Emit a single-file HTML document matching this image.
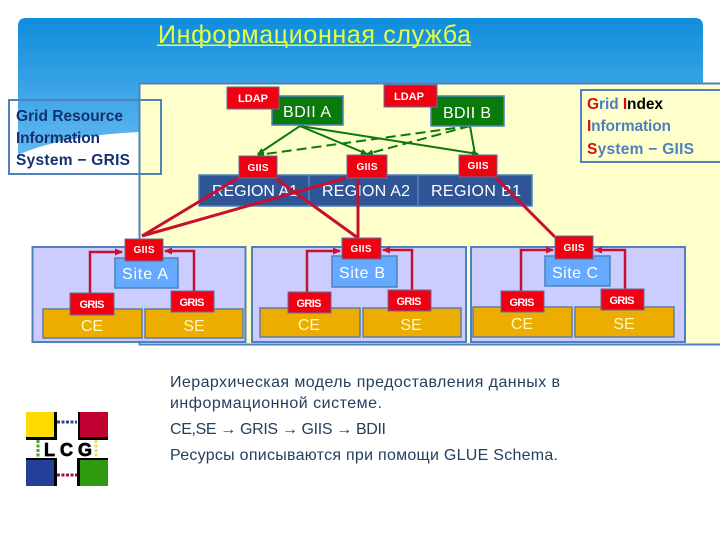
<!DOCTYPE html>
<html><head><meta charset="utf-8"><style>
html,body{margin:0;padding:0;background:#fff}
svg{display:block}
text{font-family:"Liberation Sans",sans-serif}
</style></head><body>
<svg width="720" height="540" viewBox="0 0 720 540" xmlns="http://www.w3.org/2000/svg">
<defs>
<linearGradient id="h" x1="0" y1="0" x2="0" y2="1"><stop offset="0" stop-color="#0f8ddb"/><stop offset="1" stop-color="#63b9f0"/></linearGradient>
<marker id="g" markerWidth="8" markerHeight="8" refX="6" refY="3" orient="auto" markerUnits="userSpaceOnUse"><path d="M0 0L7 3L0 6z" fill="#0a7a0a"/></marker>
<marker id="r" markerWidth="9" markerHeight="8" refX="7" refY="3.5" orient="auto" markerUnits="userSpaceOnUse"><path d="M0 0L8 3.5L0 7z" fill="#d0102a"/></marker>
</defs>
<path d="M18 155V26Q18 18 26 18H695Q703 18 703 26V100H139V132Q60 136 18 155Z" fill="url(#h)"/>
<text x="158" y="43" font-size="25" fill="#e4ff4a" textLength="313" lengthAdjust="spacing">Информационная служба</text>
<rect x="157" y="44.500" width="314" height="1.500" fill="#e4ff4a"/>
<rect x="139.500" y="83.500" width="590" height="261" fill="#ffffcc" stroke="#4f81bd" stroke-width="2"/>
<rect x="9" y="100" width="152" height="74" fill="none" stroke="#4f81bd" stroke-width="2"/>
<g font-size="15.500" font-weight="bold" fill="#14306e">
<text x="16" y="121" textLength="107">Grid Resource</text>
<text x="16" y="143" textLength="84">Information</text>
<text x="16" y="165" textLength="114">System − GRIS</text>
</g>
<rect x="581" y="90" width="150" height="72" fill="#ffffcc" stroke="#4f81bd" stroke-width="2"/>
<g font-size="15.500" font-weight="bold" fill="#4f81bd">
<text x="587" y="109" textLength="76"><tspan fill="#d01010">G</tspan>rid <tspan fill="#d01010">I</tspan><tspan fill="#000">ndex</tspan></text>
<text x="587" y="131" textLength="84"><tspan fill="#d01010">I</tspan>nformation</text>
<text x="587" y="154" textLength="107"><tspan fill="#d01010">S</tspan>ystem − GIIS</text>
</g>
<!-- green connectors -->
<g stroke="#0a7a0a" stroke-width="2" fill="none">
<line x1="300" y1="126" x2="258" y2="154" marker-end="url(#g)"/>
<line x1="300" y1="126" x2="367" y2="154" marker-end="url(#g)"/>
<line x1="300" y1="126" x2="478" y2="154" marker-end="url(#g)"/>
<line x1="470" y1="126" x2="475" y2="154"/>
<line x1="470" y1="126" x2="258" y2="155" stroke-dasharray="10 5" marker-end="url(#g)"/>
<line x1="470" y1="126" x2="367" y2="154" stroke-dasharray="10 5" marker-end="url(#g)"/>
</g>
<!-- regions -->
<g fill="#2f5597" stroke="#4f81bd" stroke-width="1.500">
<rect x="199" y="175" width="110" height="31"/>
<rect x="309" y="175" width="109" height="31"/>
<rect x="418" y="175" width="114" height="31"/>
</g>
<g font-size="16" fill="#fff" text-anchor="middle">
<text x="255" y="196" textLength="86">REGION A1</text>
<text x="366" y="196" textLength="88">REGION A2</text>
<text x="476" y="196" textLength="90">REGION B1</text>
</g>
<!-- sites -->
<g fill="#ccccff" stroke="#4f81bd" stroke-width="2">
<rect x="32.500" y="247" width="213" height="95"/>
<rect x="252" y="247" width="214" height="95"/>
<rect x="471" y="247" width="214" height="95"/>
</g>
<g fill="#66aaff" stroke="#4f81bd" stroke-width="1.500">
<rect x="115" y="258" width="63" height="30"/>
<rect x="332" y="256" width="65" height="31"/>
<rect x="545" y="256" width="65" height="30"/>
</g>
<g font-size="16" fill="#fff" text-anchor="middle">
<text x="145" y="279" textLength="46">Site A</text>
<text x="362" y="278" textLength="46">Site B</text>
<text x="575" y="278" textLength="46">Site C</text>
</g>
<g fill="#edac00" stroke="#5f7f9f" stroke-width="1.500">
<rect x="43" y="309" width="99" height="29"/>
<rect x="145" y="309" width="98" height="29"/>
<rect x="260" y="308" width="100" height="29"/>
<rect x="363" y="308" width="98" height="29"/>
<rect x="473" y="307" width="99" height="30"/>
<rect x="575" y="307" width="99" height="30"/>
</g>
<g font-size="16" fill="#fff8c0" text-anchor="middle">
<text x="92" y="331">CE</text><text x="194" y="331">SE</text>
<text x="309" y="330">CE</text><text x="411" y="330">SE</text>
<text x="522" y="329">CE</text><text x="624" y="329">SE</text>
</g>
<!-- red connectors -->
<g stroke="#c8102e" stroke-width="2.500" fill="none">
<line x1="240" y1="177" x2="142" y2="236" stroke-width="3"/>
<line x1="346" y1="178" x2="142" y2="236" stroke-width="3" marker-start="url(#r)"/>
<line x1="275" y1="178" x2="358" y2="238" stroke-width="3"/>
<line x1="358" y1="178" x2="358" y2="238" stroke-width="3"/>
<line x1="495" y1="177" x2="555" y2="237" stroke-width="3"/>
<path d="M90 293V252H122" marker-end="url(#r)"/>
<path d="M194 291V251H165" marker-end="url(#r)"/>
<path d="M307 292V251H340" marker-end="url(#r)"/>
<path d="M412 290V250H383" marker-end="url(#r)"/>
<path d="M521 291V250H553" marker-end="url(#r)"/>
<path d="M625 289V250H595" marker-end="url(#r)"/>
</g>
<!-- BDII -->
<g fill="#0a7a0a" stroke="#4f81bd" stroke-width="1.500">
<rect x="272" y="96" width="71" height="29"/>
<rect x="431" y="96" width="73" height="30"/>
</g>
<g font-size="16" fill="#fff" text-anchor="middle">
<text x="307" y="117" textLength="48">BDII A</text>
<text x="467" y="118" textLength="48">BDII B</text>
</g>
<!-- red labels -->
<g fill="#f00010" stroke="#5f6f9f" stroke-width="1">
<rect x="227" y="87" width="52" height="22"/><rect x="384" y="85" width="53" height="22"/>
<rect x="239" y="156" width="38" height="22"/><rect x="347" y="155" width="40" height="23"/><rect x="459" y="155" width="38" height="22"/>
<rect x="125" y="239" width="38" height="22"/><rect x="342" y="238" width="39" height="21"/><rect x="555" y="236" width="38" height="23"/>
<rect x="70" y="293" width="44" height="22"/><rect x="171" y="291" width="43" height="21"/>
<rect x="288" y="292" width="43" height="21"/><rect x="388" y="290" width="43" height="21"/>
<rect x="501" y="291" width="43" height="21"/><rect x="601" y="289" width="43" height="21"/>
</g>
<g font-size="11" font-weight="bold" fill="#fff" text-anchor="middle">
<text x="253" y="102" textLength="30">LDAP</text><text x="409" y="100" textLength="30">LDAP</text>
<g font-size="10">
<text x="258" y="171" textLength="21">GIIS</text><text x="367" y="170" textLength="21">GIIS</text><text x="478" y="169" textLength="21">GIIS</text>
<text x="144" y="253" textLength="21">GIIS</text><text x="361" y="252" textLength="21">GIIS</text><text x="574" y="251" textLength="21">GIIS</text>
</g>
<text x="92" y="308" textLength="25">GRIS</text><text x="192" y="306" textLength="25">GRIS</text>
<text x="309" y="307" textLength="25">GRIS</text><text x="409" y="305" textLength="25">GRIS</text>
<text x="522" y="306" textLength="25">GRIS</text><text x="622" y="304" textLength="25">GRIS</text>
</g>
<!-- body text -->
<g font-size="16" fill="#24405f">
<text x="170" y="387" textLength="390">Иерархическая модель предоставления данных в</text>
<text x="170" y="408" textLength="212">информационной системе.</text>
<text x="170" y="434" textLength="216">CE,SE → GRIS → GIIS → BDII</text>
<text x="170" y="460" textLength="388">Ресурсы описываются при помощи GLUE Schema.</text>
</g>
<!-- logo -->
<g>
<rect x="26" y="412" width="31" height="28" fill="#000"/><rect x="26" y="412" width="28" height="25" fill="#ffdc00"/>
<rect x="78" y="412" width="30" height="28" fill="#000"/><rect x="80" y="412" width="28" height="25" fill="#c00030"/>
<rect x="26" y="458" width="31" height="28" fill="#000"/><rect x="26" y="460" width="28" height="26" fill="#22409a"/>
<rect x="77" y="458" width="31" height="28" fill="#000"/><rect x="80" y="460" width="28" height="26" fill="#2f9a10"/>
<line x1="57" y1="422" x2="77" y2="422" stroke="#334488" stroke-width="3" stroke-dasharray="3 1.500"/>
<line x1="57" y1="475" x2="77" y2="475" stroke="#991144" stroke-width="3" stroke-dasharray="3 1.500"/>
<line x1="38" y1="440" x2="38" y2="458" stroke="#44aa22" stroke-width="3" stroke-dasharray="3 1.500"/>
<line x1="96" y1="440" x2="96" y2="458" stroke="#eedd55" stroke-width="3" stroke-dasharray="3 1.500"/>
<text x="44" y="456" font-size="18" font-weight="bold" fill="#000" stroke="#000" stroke-width="0.700" textLength="48">LCG</text>
</g>
</svg>
</body></html>
